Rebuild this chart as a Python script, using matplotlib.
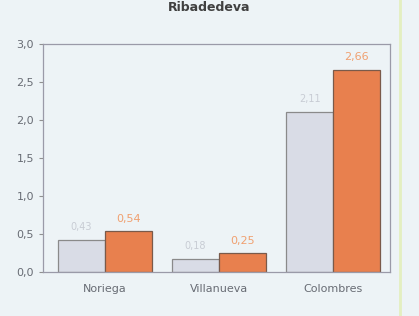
import matplotlib.pyplot as plt
import numpy as np

# Data
places = ['Noriega', 'Villanueva', 'Colombres']
serie_a = [0.43, 0.18, 2.11]
serie_b = [0.54, 0.25, 2.66]
labels_a = ['0,43', '0,18', '2,11']
labels_b = ['0,54', '0,25', '2,66']
yticks = [0.0, 0.5, 1.0, 1.5, 2.0, 2.5, 3.0]

bg = '#edf3f6'
fig = plt.figure(figsize=(4.19, 3.16), dpi=100, facecolor=bg)
ax = fig.add_axes([0.103, 0.138, 0.828, 0.723], facecolor=bg)

x = np.arange(len(places))
w = 0.41
ax.bar(x - w / 2, serie_a, w, color='#d9dce6', edgecolor='#8a8a8a', linewidth=0.9)
ax.bar(x + w / 2, serie_b, w, color='#e8804e', edgecolor='#7a5a4a', linewidth=0.9)

for xi, v, t in zip(x, serie_a, labels_a):
    ax.text(xi - w / 2, v + 0.1, t, ha='center', va='bottom', fontsize=7, color='#c8ccd4')
for xi, v, t in zip(x, serie_b, labels_b):
    ax.text(xi + w / 2, v + 0.1, t, ha='center', va='bottom', fontsize=8, color='#f0a070')

ax.set_xlim(-0.54, 2.5)
ax.set_ylim(0, 3.0)
ax.set_yticks(yticks)
ax.set_yticklabels([f'{t:.1f}'.replace('.', ',') for t in yticks])
ax.set_xticks(x)
ax.set_xticklabels(places)
ax.tick_params(axis='both', colors='#909090', labelcolor='#686c74', labelsize=8, length=3)
ax.tick_params(axis='x', length=0, pad=8)
for s in ax.spines.values():
    s.set_color('#9a9aa8')
    s.set_linewidth(0.9)

# title sits right at the top edge, as in the reference
fig.text(0.5, 0.997, 'Ribadedeva', ha='center', va='top', fontsize=9,
         fontweight='bold', color='#404040')
fig.add_artist(plt.Line2D([0.955, 0.955], [0, 1], color='#e4efc0', linewidth=2))

fig.savefig('out.png', dpi=100, facecolor=bg)
